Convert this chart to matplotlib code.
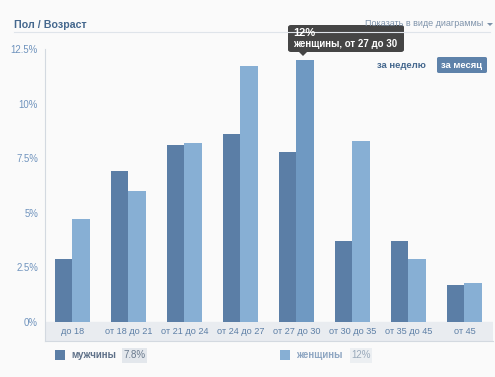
import matplotlib
matplotlib.use("Agg")
import matplotlib.pyplot as plt
from matplotlib.patches import Rectangle, FancyBboxPatch, Polygon
import numpy as np

plt.rcParams['font.family'] = ['Liberation Sans', 'DejaVu Sans']

categories = ["до 18", "от 18 до 21", "от 21 до 24", "от 24 до 27", "от 27 до 30",
              "от 30 до 35", "от 35 до 45", "от 45"]
men = [2.9, 6.9, 8.1, 8.6, 7.8, 3.7, 3.7, 1.7]
women = [4.7, 6.0, 8.2, 11.7, 12.0, 8.3, 2.9, 1.8]
yticks = [0, 2.5, 5, 7.5, 10, 12.5]
ytick_labels = ["0%", "2.5%", "5%", "7.5%", "10%", "12.5%"]
highlight = 4

c_men = "#5b7ea6"
c_women = "#87afd4"
c_women_hl = "#6f99c2"
bg = "#fafafa"

W, H = 495, 377
fig = plt.figure(figsize=(W/100, H/100), dpi=100, facecolor=bg)

band = 0.87
ax = fig.add_axes([45/W, 1-341/H, 448/W, (341-49)/H])
ax.set_facecolor(bg)
ax.set_xlim(-0.5, len(categories)-0.5)
ax.set_ylim(-band, 12.5)
ax.axhspan(-band, 0, color="#e9ecf0", zorder=0)

x = np.arange(len(categories))
bw = 0.32
cols_w = [c_women_hl if i == highlight else c_women for i in range(len(categories))]
ax.bar(x - bw/2 - 0.01, men, bw, color=c_men, zorder=2)
ax.bar(x + bw/2 - 0.01, women, bw, color=cols_w, zorder=2)

for i, c in enumerate(categories):
    ax.text(x[i], -band/2, c, ha="center", va="center", fontsize=6.6, color="#5d7fa6")

ax.set_yticks(yticks)
ax.set_yticklabels(ytick_labels, fontsize=6.9, color="#6f93bd")
ax.tick_params(axis="y", length=0, pad=5)
ax.set_xticks([])
for s in ["top", "right"]:
    ax.spines[s].set_visible(False)
ax.spines["left"].set_color("#d3d9e0")
ax.spines["bottom"].set_color("#d3d9e0")

# header
fig.text(14/W, 1-25/H, "Пол / Возраст", fontsize=7.7, fontweight="bold", color="#45688e", va="center")
fig.add_artist(plt.Line2D([14/W, 490/W], [1-32/H, 1-32/H], color="#dfe4ea", lw=0.8))
fig.text(483/W, 1-24/H, "Показать в виде диаграммы", fontsize=6.5, color="#7d92aa", ha="right", va="center")
fig.add_artist(Polygon([(487/W, 1-23/H), (493/W, 1-23/H), (490/W, 1-26/H)], closed=True,
                       transform=fig.transFigure, facecolor="#7d92aa", edgecolor="none"))

# period switch
fig.text(426/W, 1-65/H, "за неделю", fontsize=6.8, fontweight="bold", color="#45688e", ha="right", va="center")
fig.add_artist(FancyBboxPatch((437/W, 1-73/H), 50/W, 16/H, boxstyle="round,pad=0,rounding_size=0.004",
                              transform=fig.transFigure, facecolor="#5e82aa", edgecolor="none"))
fig.text(462/W, 1-65/H, "за месяц", fontsize=6.8, fontweight="bold", color="white", ha="center", va="center")

# tooltip
fig.add_artist(FancyBboxPatch((288/W, 1-52/H), 116/W, 27/H, boxstyle="round,pad=0,rounding_size=0.006",
                              transform=fig.transFigure, facecolor="#454545", edgecolor="none"))
fig.add_artist(Polygon([(299/W, 1-52/H), (307/W, 1-52/H), (303/W, 1-56/H)], closed=True,
                       transform=fig.transFigure, facecolor="#454545", edgecolor="none"))
fig.text(293/W, 1-33/H, "12%", fontsize=8, fontweight="bold", color="white", va="center")
fig.text(293/W, 1-44/H, "женщины, от 27 до 30", fontsize=7, fontweight="bold", color="white", va="center")

# legend
fig.add_artist(Rectangle((55/W, 1-360/H), 10/W, 10/H, transform=fig.transFigure, facecolor=c_men, edgecolor="none"))
fig.text(71/W, 1-355/H, "мужчины", fontsize=7, fontweight="bold", color="#5f7189", va="center")
fig.add_artist(Rectangle((122/W, 1-363/H), 25/W, 15/H, transform=fig.transFigure, facecolor="#e3e7ec", edgecolor="none"))
fig.text(134.5/W, 1-355.5/H, "7.8%", fontsize=7, color="#6a7a8e", ha="center", va="center")

fig.add_artist(Rectangle((280/W, 1-360/H), 10/W, 10/H, transform=fig.transFigure, facecolor=c_women, edgecolor="none"))
fig.text(296/W, 1-355/H, "женщины", fontsize=7, fontweight="bold", color="#8ea6c2", va="center")
fig.add_artist(Rectangle((350/W, 1-363/H), 22/W, 15/H, transform=fig.transFigure, facecolor="#eceff2", edgecolor="none"))
fig.text(361/W, 1-355.5/H, "12%", fontsize=7, color="#9aaabb", ha="center", va="center")

fig.savefig("out.png", dpi=100, facecolor=bg)
